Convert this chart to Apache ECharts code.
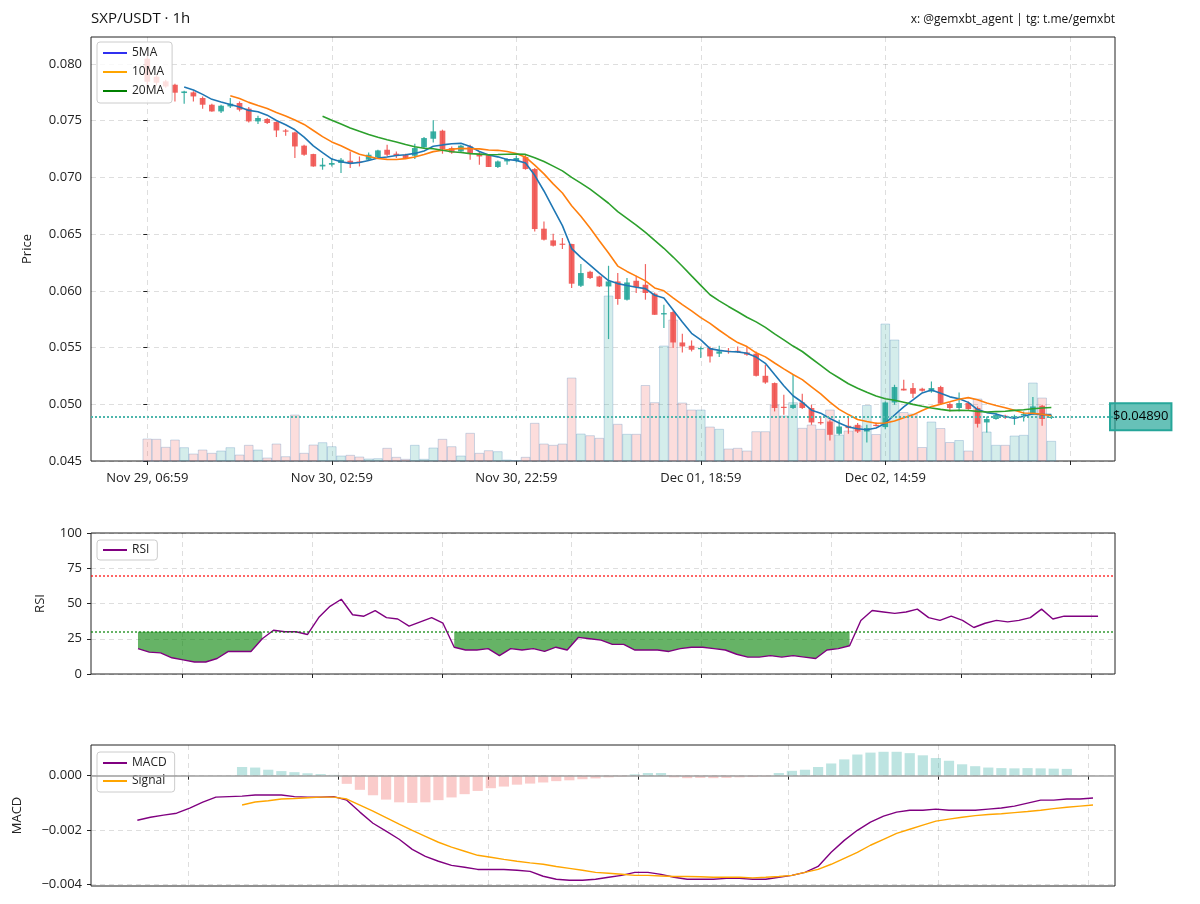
<!DOCTYPE html>
<html><head><meta charset="utf-8">
<script src="https://cdn.jsdelivr.net/npm/echarts@6/dist/echarts.min.js"></script>
<style>html,body{margin:0;padding:0;background:#fff}#c{width:1200px;height:904px}</style>
</head><body><div id="c"></div>
<script>
// ---------- data (hourly candles, index 0 = Nov 29 06:59) ----------
const opens=[0.08047,0.07888,0.07847,0.07817,0.07744,0.07750,0.07700,0.07641,0.07582,0.07626,
0.07656,0.07606,0.07494,0.07515,0.07489,0.07414,0.07397,0.07280,0.07206,0.07097,
0.07112,0.07127,0.07147,0.07141,0.07156,0.07180,0.07244,0.07209,0.07200,0.07191,
0.07265,0.07341,0.07412,0.07259,0.07229,0.07273,0.07209,0.07200,0.07092,0.07141,
0.07147,0.07180,0.07074,0.06548,0.06445,0.06416,0.06413,0.06045,0.06168,0.06127,
0.06039,0.06083,0.05922,0.06089,0.06054,0.05975,0.05792,0.05813,0.05545,0.05516,
0.05490,0.05496,0.05446,0.05472,0.05472,0.05457,0.05446,0.05251,0.05187,0.04978,
0.04967,0.05016,0.04967,0.04843,0.04848,0.04740,0.04810,0.04819,0.04760,0.04819,
0.04799,0.05016,0.05137,0.05143,0.05137,0.05113,0.05152,0.05002,0.04967,0.05011,
0.04967,0.04840,0.04870,0.04899,0.04878,0.04902,0.04923,0.04987,0.04882];
const highs=[0.08070,0.07906,0.07862,0.07826,0.07765,0.07760,0.07714,0.07650,0.07641,0.07700,
0.07670,0.07621,0.07544,0.07524,0.07494,0.07427,0.07403,0.07288,0.07209,0.07171,
0.07171,0.07171,0.07229,0.07185,0.07220,0.07244,0.07288,0.07229,0.07209,0.07297,
0.07356,0.07503,0.07421,0.07273,0.07288,0.07288,0.07229,0.07200,0.07150,0.07171,
0.07191,0.07200,0.07083,0.06612,0.06504,0.06466,0.06416,0.06236,0.06177,0.06133,
0.06221,0.06157,0.06113,0.06133,0.06236,0.05986,0.05878,0.05825,0.05622,0.05563,
0.05510,0.05510,0.05516,0.05496,0.05510,0.05510,0.05466,0.05348,0.05192,0.05084,
0.05260,0.05093,0.04996,0.04893,0.04863,0.04863,0.04878,0.04834,0.04819,0.04840,
0.05025,0.05172,0.05216,0.05187,0.05145,0.05201,0.05163,0.05016,0.05104,0.05025,
0.04981,0.04893,0.04923,0.04908,0.04908,0.04937,0.05064,0.04996,0.04908];
const lows=[0.07790,0.07810,0.07791,0.07670,0.07650,0.07670,0.07606,0.07579,0.07568,0.07612,
0.07582,0.07485,0.07471,0.07471,0.07356,0.07368,0.07171,0.07191,0.07094,0.07068,
0.07097,0.07039,0.07083,0.07097,0.07150,0.07171,0.07185,0.07171,0.07162,0.07162,
0.07259,0.07309,0.07209,0.07209,0.07215,0.07156,0.07112,0.07092,0.07083,0.07112,
0.07132,0.07068,0.06524,0.06445,0.06392,0.06369,0.06025,0.06034,0.06104,0.06034,
0.05575,0.05878,0.05915,0.05981,0.05922,0.05789,0.05672,0.05496,0.05457,0.05466,
0.05407,0.05369,0.05416,0.05446,0.05452,0.05428,0.05245,0.05181,0.04937,0.04908,
0.04958,0.04958,0.04819,0.04819,0.04681,0.04728,0.04740,0.04746,0.04663,0.04804,
0.04781,0.04996,0.05122,0.05055,0.05110,0.05102,0.04996,0.04937,0.04937,0.04952,
0.04795,0.04751,0.04863,0.04870,0.04819,0.04848,0.04908,0.04810,0.04870];
const closes=[0.07844,0.07835,0.07802,0.07747,0.07758,0.07714,0.07641,0.07582,0.07632,0.07650,
0.07597,0.07494,0.07524,0.07480,0.07414,0.07409,0.07273,0.07200,0.07097,0.07112,
0.07127,0.07156,0.07127,0.07136,0.07200,0.07238,0.07200,0.07191,0.07171,0.07259,
0.07347,0.07406,0.07250,0.07220,0.07280,0.07209,0.07185,0.07092,0.07141,0.07162,
0.07171,0.07074,0.06545,0.06451,0.06398,0.06407,0.06063,0.06157,0.06113,0.06039,
0.06083,0.05928,0.06074,0.06034,0.05981,0.05789,0.05804,0.05545,0.05510,0.05481,
0.05496,0.05422,0.05466,0.05463,0.05463,0.05437,0.05251,0.05192,0.04967,0.04969,
0.04996,0.04967,0.04840,0.04837,0.04731,0.04804,0.04790,0.04760,0.04790,0.04810,
0.05016,0.05152,0.05122,0.05093,0.05119,0.05143,0.05005,0.04967,0.05011,0.04958,
0.04828,0.04870,0.04905,0.04887,0.04893,0.04914,0.04981,0.04870,0.04890];
const volumes=[220,217,137,210,133,70,110,77,100,133,
60,157,110,30,170,43,460,77,160,183,
143,50,57,40,20,23,127,37,17,157,
17,130,217,143,50,277,77,103,93,10,
3,37,377,170,157,170,830,270,253,227,
1650,367,267,267,755,583,1150,1410,580,510,
510,340,317,120,127,100,293,293,560,450,
583,327,360,317,510,260,300,350,555,265,
1370,1210,485,470,135,390,325,185,205,100,
620,290,157,157,250,257,780,630,197];
const tickIndex=[0,20,40,60,80,100];
const tickLabels=['Nov 29, 06:59','Nov 30, 02:59','Nov 30, 22:59','Dec 01, 18:59','Dec 02, 14:59'];
const priceTicks=[0.045,0.050,0.055,0.060,0.065,0.070,0.075,0.080];
const lastPrice=0.04890;
const maPeriods=[5,10,20];

const rsiStart=13;
const rsi=[18,15.5,15,11.5,10,8.5,8.5,11,16,16,
16,25,31,30,30,28,40,48,53,42,
41,45,40,39,34,37,40,36,19,17,
17,18,13,18,17,18,16,19,17,26,
25,24,21,21,17,17,17,16,18,19,
19,18,17,14,12,12,13,12,13,12,
11,17,18,20,38,45,44,43,44,46,
40,38,41,38,33,36,38,37,38,40,
46,39,41,41,41,41];
const macdStart=25;
const macd=[-0.00164,-0.00153,-0.00145,-0.00138,-0.00119,-0.00097,-0.00079,-0.00077,-0.00075,-0.00071,
-0.00071,-0.00071,-0.00077,-0.00079,-0.00079,-0.00077,-0.00090,-0.00134,-0.00175,-0.00204,
-0.00234,-0.00271,-0.00297,-0.00315,-0.00330,-0.00337,-0.00345,-0.00345,-0.00345,-0.00348,
-0.00352,-0.00370,-0.00381,-0.00385,-0.00385,-0.00381,-0.00374,-0.00367,-0.00356,-0.00356,
-0.00363,-0.00374,-0.00381,-0.00381,-0.00381,-0.00378,-0.00378,-0.00381,-0.00381,-0.00374,
-0.00367,-0.00356,-0.00334,-0.00282,-0.00238,-0.00201,-0.00171,-0.00149,-0.00134,-0.00127,
-0.00127,-0.00123,-0.00127,-0.00127,-0.00127,-0.00123,-0.00119,-0.00112,-0.00101,-0.00090,
-0.00090,-0.00086,-0.00086,-0.00082];
const signalStart=33;
const signal=[-0.00108,-0.00097,-0.00092,-0.00086,-0.00084,-0.00081,-0.00079,-0.00079,-0.00086,-0.00108,
-0.00130,-0.00154,-0.00178,-0.00201,-0.00223,-0.00245,-0.00263,-0.00278,-0.00293,-0.00300,
-0.00308,-0.00315,-0.00321,-0.00326,-0.00334,-0.00341,-0.00348,-0.00356,-0.00359,-0.00363,
-0.00367,-0.00367,-0.00369,-0.00371,-0.00371,-0.00372,-0.00374,-0.00374,-0.00374,-0.00376,
-0.00374,-0.00371,-0.00367,-0.00356,-0.00345,-0.00326,-0.00304,-0.00282,-0.00256,-0.00234,
-0.00212,-0.00197,-0.00182,-0.00167,-0.00160,-0.00153,-0.00147,-0.00143,-0.00140,-0.00136,
-0.00132,-0.00127,-0.00121,-0.00116,-0.00112,-0.00108];
const histStart=33;
const hist=[0.00032,0.00030,0.00022,0.00017,0.00013,0.00009,0.00006,0.00003,-0.00030,-0.00052,
-0.00072,-0.00088,-0.00098,-0.00100,-0.00098,-0.00090,-0.00080,-0.00068,-0.00056,-0.00046,
-0.00040,-0.00033,-0.00029,-0.00025,-0.00020,-0.00017,-0.00013,-0.00010,-0.00006,-0.00003,
0.00005,0.00010,0.00010,-0.00006,-0.00009,-0.00008,-0.00009,-0.00008,-0.00006,-0.00005,
-0.00003,0.00010,0.00018,0.00022,0.00032,0.00045,0.00060,0.00078,0.00085,0.00088,
0.00088,0.00083,0.00075,0.00065,0.00055,0.00042,0.00035,0.00030,0.00028,0.00027,
0.00028,0.00027,0.00026,0.00025];
const rsiXTicks=[16.9,28.4,39.9,51.4,62.9,74.4,85.9,97.4];
const macdXTicks=[28.9,40.35,51.8,63.25,74.75,86.2,97.65];
const macdTicks=[-0.004,-0.002,0];

// ---------- helpers ----------
const UP='#26a69a', DOWN='#ef5350';
const FONT='Open Sans';
function sma(n){const out=[];for(let i=n-1;i<closes.length;i++){let s=0;for(let j=i-n+1;j<=i;j++)s+=closes[j];out.push([i,s/n]);}return out;}
const candleData=closes.map((c,k)=>[k,opens[k],c,lows[k],highs[k]]);
const volData=volumes.map((v,k)=>[k,v]);
const rsiData=rsi.map((v,i)=>[rsiStart+i,v]);
const macdData=macd.map((v,i)=>[macdStart+i,v]);
const sigData=signal.map((v,i)=>[signalStart+i,v]);
const histData=hist.map((v,i)=>[histStart+i,v]);
// oversold runs (rsi<30)
const runs=[];let rs=-1;
rsi.forEach((v,i)=>{if(v<30){if(rs<0)rs=i;}else if(rs>=0){runs.push([rs,i-1]);rs=-1;}});
if(rs>=0)runs.push([rs,rsi.length-1]);

const gridLine={show:true,lineStyle:{color:'rgba(0,0,0,0.13)',type:[5,4],width:1}};
const tickStyle={show:true,length:4,lineStyle:{color:'#222',width:1}};
const lblStyle={color:'#222',fontSize:13,fontFamily:FONT};

const chart=echarts.init(document.getElementById('c'),null,{renderer:'canvas'});
const option={
  animation:false,
  backgroundColor:'#fff',
  textStyle:{fontFamily:FONT},
  title:[
    {text:'SXP/USDT · 1h',left:86,top:6,textStyle:{fontSize:15,fontWeight:'normal',color:'#111',fontFamily:FONT}},
    {text:'x: @gemxbt_agent | tg: t.me/gemxbt',right:80,top:9,textStyle:{fontSize:12,fontWeight:'normal',color:'#111',fontFamily:FONT}}
  ],
  legend:[
    {data:['5MA','10MA','20MA'],left:97,top:42,orient:'vertical',icon:'rect',itemWidth:24,itemHeight:2,itemGap:7,
     backgroundColor:'rgba(255,255,255,0.8)',borderColor:'#ccc',borderWidth:1,borderRadius:3,padding:[5,8,6,6],
     textStyle:{fontSize:12,color:'#222',fontFamily:FONT}},
    {data:['RSI'],left:97,top:540,orient:'vertical',icon:'rect',itemWidth:24,itemHeight:2,
     backgroundColor:'rgba(255,255,255,0.8)',borderColor:'#ccc',borderWidth:1,borderRadius:3,padding:[4,8,4,6],
     textStyle:{fontSize:12,color:'#222',fontFamily:FONT}},
    {data:['MACD','Signal'],left:97,top:752,orient:'vertical',icon:'rect',itemWidth:24,itemHeight:2,itemGap:6,
     backgroundColor:'rgba(255,255,255,0.8)',borderColor:'#ccc',borderWidth:1,borderRadius:3,padding:[5,8,5,6],
     textStyle:{fontSize:12,color:'#222',fontFamily:FONT}}
  ],
  grid:[
    {left:91,top:37,width:1024,height:424,show:true,borderColor:'#222',borderWidth:1,backgroundColor:'transparent'},
    {left:91,top:533,width:1024,height:141,show:true,borderColor:'#222',borderWidth:1,backgroundColor:'transparent'},
    {left:91,top:745,width:1024,height:141,show:true,borderColor:'#222',borderWidth:1,backgroundColor:'transparent'}
  ],
  xAxis:[
    {type:'value',gridIndex:0,min:-6.1,max:104.9,axisLine:{show:false},
     axisTick:Object.assign({customValues:tickIndex},tickStyle),
     axisLabel:Object.assign({customValues:tickIndex.slice(0,tickLabels.length),margin:11,
       formatter:v=>{const i=tickIndex.indexOf(Math.round(v));return i>=0&&i<tickLabels.length?tickLabels[i]:'';}},lblStyle),
     splitLine:gridLine},
    {type:'value',gridIndex:1,min:8.84,max:99.5,axisLine:{show:false},
     axisTick:Object.assign({customValues:rsiXTicks},tickStyle),
     axisLabel:{show:false},splitLine:gridLine},
    {type:'value',gridIndex:2,min:21.46,max:99.68,axisLine:{show:false},
     axisTick:Object.assign({customValues:macdXTicks},tickStyle),
     axisLabel:{show:false},splitLine:gridLine}
  ],
  yAxis:[
    {type:'value',gridIndex:0,min:0.045,max:0.08238,axisLine:{show:false},
     axisTick:Object.assign({customValues:priceTicks},tickStyle),
     axisLabel:Object.assign({customValues:priceTicks,formatter:v=>v.toFixed(3),margin:9},lblStyle),
     splitLine:gridLine,
     name:'Price',nameLocation:'middle',nameGap:57,nameRotate:90,nameTextStyle:{fontSize:13,color:'#222',fontFamily:FONT}},
    {type:'value',gridIndex:0,min:0,max:4240,show:false,splitLine:{show:false}},
    {type:'value',gridIndex:1,min:0,max:100,interval:25,axisLine:{show:false},
     axisTick:tickStyle,axisLabel:Object.assign({margin:9},lblStyle),splitLine:gridLine,
     name:'RSI',nameLocation:'middle',nameGap:44,nameRotate:90,nameTextStyle:{fontSize:13,color:'#222',fontFamily:FONT}},
    {type:'value',gridIndex:2,min:-0.00406,max:0.00113,axisLine:{show:false},
     axisTick:Object.assign({customValues:macdTicks},tickStyle),
     axisLabel:Object.assign({customValues:macdTicks,margin:9,
       formatter:v=>(v<-1e-9?'\u2212'+Math.abs(v).toFixed(3):'0.000')},lblStyle),
     splitLine:gridLine,
     name:'MACD',nameLocation:'middle',nameGap:67,nameRotate:90,nameTextStyle:{fontSize:13,color:'#222',fontFamily:FONT}}
  ],
  series:[
    {type:'custom',name:'Volume',xAxisIndex:0,yAxisIndex:1,data:volData,encode:{x:0,y:1},z:1,
     renderItem:(params,api)=>{
       const k=api.value(0),v=api.value(1);
       const p0=api.coord([k-0.47,0]),p1=api.coord([k+0.47,v]);
       const up=closes[k]>=opens[k];
       return {type:'rect',shape:{x:p0[0],y:p1[1],width:p1[0]-p0[0],height:p0[1]-p1[1]},
         style:{fill:up?'rgba(38,166,154,0.2)':'rgba(239,83,80,0.2)',stroke:'rgba(90,140,190,0.3)',lineWidth:1}};
     }},
    {type:'line',name:'lastPrice',xAxisIndex:0,yAxisIndex:0,data:[],z:2,
     markLine:{symbol:'none',silent:true,precision:5,data:[{yAxis:lastPrice}],
       lineStyle:{type:'dotted',color:'#4db6ac',width:2},
       label:{show:true,position:'end',distance:-5,formatter:'$'+lastPrice.toFixed(5),color:'#000',fontSize:13,fontFamily:FONT,
         backgroundColor:'rgba(38,166,154,0.7)',borderColor:'#26a69a',borderWidth:1,padding:[7,3]}}},
    {type:'custom',name:'Candles',xAxisIndex:0,yAxisIndex:0,data:candleData,encode:{x:0,y:[1,2,3,4]},z:3,
     renderItem:(params,api)=>{
       const x=api.value(0),o=api.value(1),c=api.value(2),l=api.value(3),h=api.value(4);
       const pO=api.coord([x,o]),pC=api.coord([x,c]),pL=api.coord([x,l]),pH=api.coord([x,h]);
       const w=api.size([1,0])[0]*0.62;
       const col=c>=o?UP:DOWN;
       const top=Math.min(pO[1],pC[1]);const hh=Math.max(Math.abs(pO[1]-pC[1]),1.2);
       return {type:'group',children:[
         {type:'line',shape:{x1:pH[0],y1:pH[1],x2:pL[0],y2:pL[1]},style:{stroke:col,lineWidth:1.2,opacity:0.9}},
         {type:'rect',shape:{x:pO[0]-w/2,y:top,width:w,height:hh},style:{fill:col,opacity:0.9}}
       ]};
     }},
    {type:'line',name:'ma5',xAxisIndex:0,yAxisIndex:0,data:sma(maPeriods[0]),showSymbol:false,z:4,
     lineStyle:{color:'#1f77b4',width:1.6},itemStyle:{color:'#1f77b4'}},
    {type:'line',name:'ma10',xAxisIndex:0,yAxisIndex:0,data:sma(maPeriods[1]),showSymbol:false,z:4,
     lineStyle:{color:'#ff7f0e',width:1.6},itemStyle:{color:'#ff7f0e'}},
    {type:'line',name:'ma20',xAxisIndex:0,yAxisIndex:0,data:sma(maPeriods[2]),showSymbol:false,z:4,
     lineStyle:{color:'#2ca02c',width:1.6},itemStyle:{color:'#2ca02c'}},
    {type:'line',name:'5MA',xAxisIndex:0,yAxisIndex:0,data:[],itemStyle:{color:'#3030f0'},lineStyle:{color:'#3030f0'}},
    {type:'line',name:'10MA',xAxisIndex:0,yAxisIndex:0,data:[],itemStyle:{color:'#ffa500'},lineStyle:{color:'#ffa500'}},
    {type:'line',name:'20MA',xAxisIndex:0,yAxisIndex:0,data:[],itemStyle:{color:'#008000'},lineStyle:{color:'#008000'}},
    {type:'custom',name:'rsiFill',xAxisIndex:1,yAxisIndex:2,data:runs.map(r=>[rsiStart+r[0],rsiStart+r[1]]),z:2,
     renderItem:(params,api)=>{
       const r=runs[params.dataIndex];const pts=[];
       for(let i=r[0];i<=r[1];i++)pts.push(api.coord([rsiStart+i,rsi[i]]));
       pts.push(api.coord([rsiStart+r[1],30]));pts.push(api.coord([rsiStart+r[0],30]));
       return {type:'polygon',shape:{points:pts},style:{fill:'rgba(0,128,0,0.6)'}};
     }},
    {type:'line',name:'RSI',xAxisIndex:1,yAxisIndex:2,data:rsiData,showSymbol:false,z:4,
     lineStyle:{color:'#800080',width:1.4},itemStyle:{color:'#800080'},
     markLine:{symbol:'none',silent:true,label:{show:false},
       data:[{yAxis:70,lineStyle:{color:'rgba(255,0,0,0.6)',type:'dotted',width:2}},
             {yAxis:30,lineStyle:{color:'rgba(0,128,0,0.6)',type:'dotted',width:2}}]}},
    {type:'custom',name:'Hist',xAxisIndex:2,yAxisIndex:3,data:histData,encode:{x:0,y:1},z:1,
     renderItem:(params,api)=>{
       const x=api.value(0),v=api.value(1);
       const p0=api.coord([x-0.39,0]),p1=api.coord([x+0.39,v]);
       return {type:'rect',shape:{x:p0[0],y:Math.min(p0[1],p1[1]),width:p1[0]-p0[0],height:Math.abs(p1[1]-p0[1])},
         style:{fill:v>=0?'rgba(38,166,154,0.3)':'rgba(239,83,80,0.3)'}};
     }},
    {type:'line',name:'MACD',xAxisIndex:2,yAxisIndex:3,data:macdData,showSymbol:false,z:4,
     lineStyle:{color:'#800080',width:1.4},itemStyle:{color:'#800080'},
     markLine:{symbol:'none',silent:true,label:{show:false},data:[{yAxis:0}],
       lineStyle:{color:'#9e9e9e',type:'solid',width:1.6}}},
    {type:'line',name:'Signal',xAxisIndex:2,yAxisIndex:3,data:sigData,showSymbol:false,z:4,
     lineStyle:{color:'#ffa500',width:1.4},itemStyle:{color:'#ffa500'}}
  ]
};
chart.setOption(option);
</script></body></html>
